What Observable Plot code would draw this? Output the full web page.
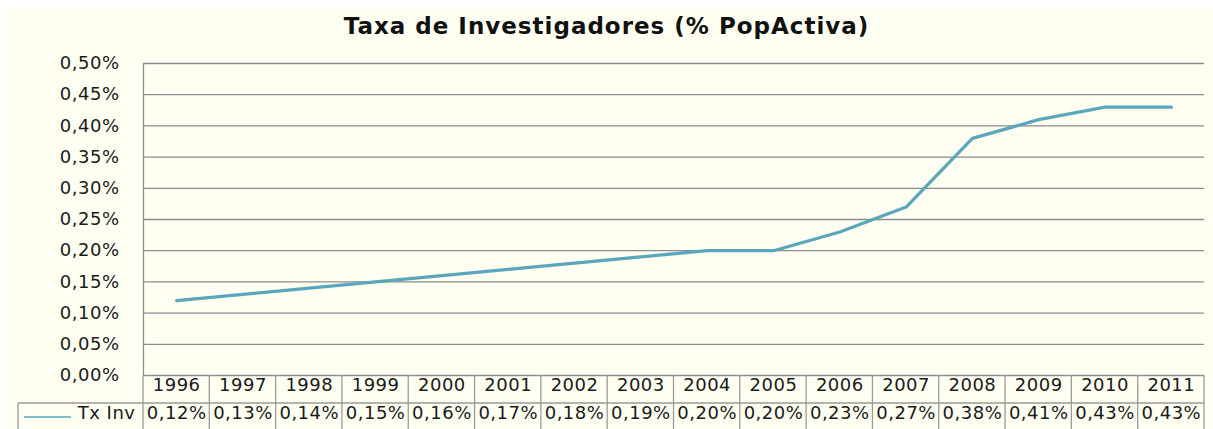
<!DOCTYPE html>
<html><head><meta charset="utf-8">
<script src="https://cdn.jsdelivr.net/npm/d3@7"></script>
<script src="https://cdn.jsdelivr.net/npm/@observablehq/plot@0.6"></script>
<style>
body{margin:0;background:#fff;}
#chart{position:absolute;left:7px;top:7px;width:1206px;height:422px;background:#FFFFF2;overflow:hidden;font-family:"DejaVu Sans",sans-serif;}
#title{height:38px;line-height:38px;font-size:23px;letter-spacing:1px;font-weight:bold;text-align:center;color:#111;padding-right:7px;}
svg{display:block;}
svg text{letter-spacing:0.5px;}
</style></head><body>
<div id="chart"><div id="title">Taxa de Investigadores (% PopActiva)</div></div>
<script>
const years = [1996,1997,1998,1999,2000,2001,2002,2003,2004,2005,2006,2007,2008,2009,2010,2011];
const txInv = [0.12,0.13,0.14,0.15,0.16,0.17,0.18,0.19,0.20,0.20,0.23,0.27,0.38,0.41,0.43,0.43];
const yTicks = [0,0.05,0.10,0.15,0.20,0.25,0.30,0.35,0.40,0.45,0.50];
const seriesName = "Tx Inv";
const fmt = v => v.toFixed(2).replace(".", ",") + "%";

const data = years.map((year, i) => ({year, value: txInv[i]}));
const bounds = [...years.map(y => y - 0.5), years[years.length - 1] + 0.5];
const lineColor = "#5aa7bb";
const gridColor = "#8c8c8c";

const plot = Plot.plot({
  width: 1206, height: 384,
  marginLeft: 136, marginRight: 9, marginTop: 18, marginBottom: 54,
  style: {background: "transparent", fontFamily: "DejaVu Sans", fontSize: "18px", color: "#1a1a1a", overflow: "visible"},
  x: {domain: [bounds[0], bounds[bounds.length - 1]], axis: null},
  y: {domain: [0, 0.5], ticks: yTicks, tickFormat: fmt, tickSize: 0, tickPadding: 24, label: null},
  marks: [
    Plot.gridY(yTicks, {stroke: gridColor, strokeOpacity: 1, strokeWidth: 1.3}),
    Plot.ruleX([bounds[0]], {stroke: gridColor, strokeWidth: 1.3}),
    Plot.line(data, {x: "year", y: "value", stroke: lineColor, strokeWidth: 3.2}),
    Plot.text(data, {x: "year", text: d => String(d.year), frameAnchor: "bottom", dy: 15, fill: "#1a1a1a", fontSize: 18}),
    Plot.text(data, {x: "year", text: d => fmt(d.value), frameAnchor: "bottom", dy: 43, fill: "#1a1a1a", fontSize: 18}),
    Plot.text([seriesName], {text: d => d, frameAnchor: "bottom-left", dx: -8, dy: 43, textAnchor: "end", fill: "#1a1a1a", fontSize: 18})
  ]
});

document.getElementById("chart").appendChild(plot);

// data table grid + legend key
const xs = plot.scale("x");
const svg = d3.select(plot);
const g = svg.append("g").attr("stroke", "#9a9a9a").attr("stroke-width", 1.3).attr("fill", "none");
const y0 = 384 - 54, y1 = y0 + 28, y2 = 384;
const xr = xs.apply(bounds[bounds.length - 1]);
const legendLeft = 11;
bounds.forEach(b => {
  const x = xs.apply(b);
  g.append("line").attr("x1", x).attr("x2", x).attr("y1", y0).attr("y2", y2);
});
g.append("line").attr("x1", legendLeft).attr("x2", xr).attr("y1", y1).attr("y2", y1);
g.append("line").attr("x1", legendLeft).attr("x2", legendLeft).attr("y1", y1).attr("y2", y2);
svg.append("line").attr("x1", 17).attr("x2", 64).attr("y1", y1 + 14).attr("y2", y1 + 14)
  .attr("stroke", lineColor).attr("stroke-width", 1.5);
</script>
</body></html>
